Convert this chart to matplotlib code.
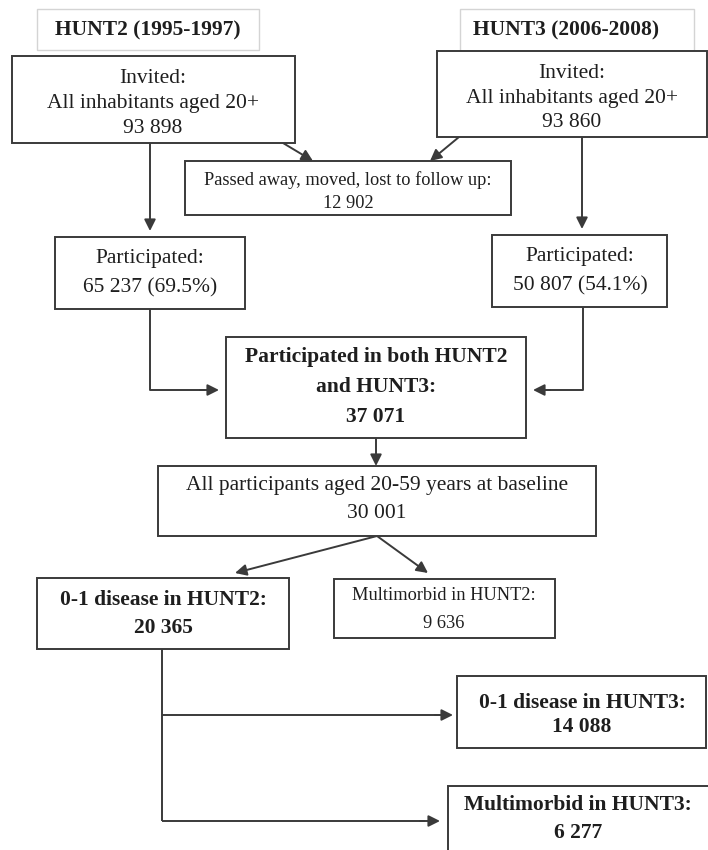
import matplotlib
matplotlib.use("Agg")
import matplotlib.pyplot as plt
from matplotlib.patches import Rectangle, FancyArrowPatch

# ---------------- data ----------------
survey_titles = ["HUNT2 (1995-1997)", "HUNT3 (2006-2008)"]
invited_label = "Invited:\nAll inhabitants aged 20+"
invited_counts = [93898, 93860]
lost_label = "Passed away, moved, lost to follow up:"
lost_count = 12902
participated_counts = [65237, 50807]
participated_pct = [69.5, 54.1]
both_label = "Participated in both HUNT2\nand HUNT3:"
both_count = 37071
baseline_label = "All participants aged 20-59 years at baseline"
baseline_count = 30001
hunt2_groups = ["0-1 disease in HUNT2:", "Multimorbid in HUNT2:"]
hunt2_counts = [20365, 9636]
hunt3_groups = ["0-1 disease in HUNT3:", "Multimorbid in HUNT3:"]
hunt3_counts = [14088, 6277]


def fmt(n):
    return f"{n:,}".replace(",", " ")


# ---------------- drawing ----------------
plt.rcParams['font.family'] = ['Liberation Serif', 'DejaVu Serif']
fig = plt.figure(figsize=(7.08, 8.5), dpi=100)
ax = fig.add_axes([0, 0, 1, 1])
ax.set_xlim(0, 708)
ax.set_ylim(850, 0)
ax.axis("off")

LINE = "#3a3a3a"
TXT = "#1e1e1e"
FS = 15.5
FS_S = 13.2


def box(x0, y0, x1, y1, ec=LINE, lw=1.4):
    ax.add_patch(Rectangle((x0, y0), x1 - x0, y1 - y0, facecolor="white",
                           edgecolor=ec, linewidth=lw, zorder=2))


def text(x, y, s, fs=FS, bold=False):
    ax.text(x, y, s, ha="center", va="center", fontsize=fs, color=TXT,
            fontweight="bold" if bold else "normal", zorder=3)


def line(xs, ys):
    ax.plot(xs, ys, color=LINE, lw=1.4, zorder=1, solid_capstyle="butt")


def arrow(p0, p1):
    ax.add_patch(FancyArrowPatch(p0, p1, arrowstyle="-|>", mutation_scale=17,
                                 color=LINE, lw=1.4, shrinkA=0, shrinkB=0,
                                 zorder=1))


inv_title, inv_desc = invited_label.split("\n")

# headers
box(37, 9, 259, 50, ec="#d4d4d4", lw=1.0)
text(148, 30, survey_titles[0], bold=True)
box(460, 9, 694, 51, ec="#d4d4d4", lw=1.0)
text(566, 30, survey_titles[1], bold=True)

# invited boxes
box(12, 56, 295, 143)
text(153, 78, inv_title)
text(153, 103, inv_desc)
text(153, 128, fmt(invited_counts[0]))

box(437, 51, 707, 137)
text(572, 73, inv_title)
text(572, 98, inv_desc)
text(572, 122, fmt(invited_counts[1]))

# lost to follow up
box(185, 161, 511, 215)
text(348, 180, lost_label, fs=FS_S)
text(348, 203, fmt(lost_count), fs=FS_S)
arrow((283, 143), (313, 161))
arrow((459, 137), (430, 161))

# participated
box(55, 237, 245, 309)
text(150, 259, "Participated:")
text(150, 288, f"{fmt(participated_counts[0])} ({participated_pct[0]}%)")
box(492, 235, 667, 307)
text(580, 256, "Participated:")
text(580, 286, f"{fmt(participated_counts[1])} ({participated_pct[1]}%)")
arrow((150, 143), (150, 231))
arrow((582, 137), (582, 229))

# both
box(226, 337, 526, 438)
l1, l2 = both_label.split("\n")
text(376, 357, l1, bold=True)
text(376, 387, l2, bold=True)
text(376, 417, fmt(both_count), bold=True)
line([150, 150, 205], [309, 390, 390])
arrow((200, 390), (219, 390))
line([583, 583, 545], [307, 390, 390])
arrow((550, 390), (533, 390))

# baseline
arrow((376, 438), (376, 466))
box(158, 466, 596, 536)
text(377, 485, baseline_label)
text(377, 513, fmt(baseline_count))

# HUNT2 groups
arrow((377, 536), (235, 573))
arrow((377, 536), (428, 573))
box(37, 578, 289, 649)
text(163, 600, hunt2_groups[0], bold=True)
text(163, 628, fmt(hunt2_counts[0]), bold=True)
box(334, 579, 555, 638)
text(444, 596, hunt2_groups[1], fs=FS_S)
text(444, 623, fmt(hunt2_counts[1]), fs=FS_S)

# HUNT3 outcomes
line([162, 162], [649, 821])
line([162, 440], [715, 715])
arrow((435, 715), (453, 715))
line([162, 425], [821, 821])
arrow((420, 821), (440, 821))
box(457, 676, 706, 748)
text(582, 703, hunt3_groups[0], bold=True)
text(582, 727, fmt(hunt3_counts[0]), bold=True)
box(448, 786, 712, 870)
text(578, 805, hunt3_groups[1], bold=True)
text(578, 833, fmt(hunt3_counts[1]), bold=True)

fig.savefig("out.png", dpi=100, facecolor="white")
